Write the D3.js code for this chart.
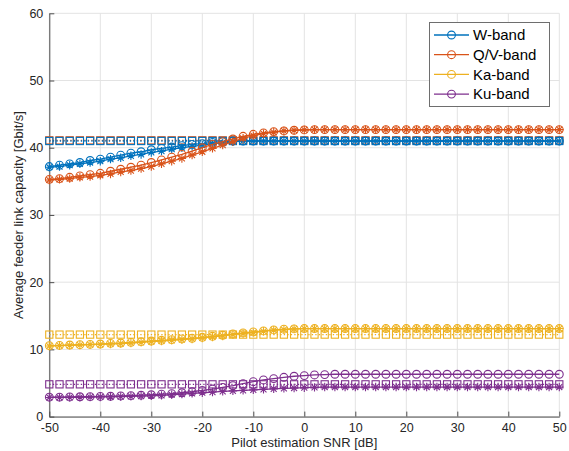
<!DOCTYPE html>
<html>
<head>
<meta charset="utf-8">
<script src="https://cdn.jsdelivr.net/npm/d3@7"></script>
<style>
  html, body { margin: 0; padding: 0; background: #fff; }
  svg { display: block; font-family: "Liberation Sans", Arial, Helvetica, sans-serif; }
</style>
</head>
<body>
<svg id="chart" width="569" height="451"></svg>
<script>
// Pilot estimation SNR grid [dB]
const snr = [-50,-48,-46,-44,-42,-40,-38,-36,-34,-32,-30,-28,-26,-24,-22,-20,-18,-16,-14,-12,-10,-8,-6,-4,-2,0,2,4,6,8,10,12,14,16,18,20,22,24,26,28,30,32,34,36,38,40,42,44,46,48,50];

// W-band capacity [Gbit/s]
const wCircle = [37.2,37.4,37.6,37.8,38.1,38.3,38.6,38.9,39.2,39.4,39.7,39.9,40.1,40.3,40.5,40.6,40.8,40.9,41.0,41.0,41.0,41.0,41.0,41.0,41.0,41.0,41.0,41.0,41.0,41.0,41.0,41.0,41.0,41.0,41.0,41.0,41.0,41.0,41.0,41.0,41.0,41.0,41.0,41.0,41.0,41.0,41.0,41.0,41.0,41.0,41.0];
const wSquare = [41.0,41.0,41.0,41.0,41.0,41.0,41.0,41.0,41.0,41.0,41.0,41.0,41.0,41.0,41.0,41.0,41.0,41.0,41.0,41.0,41.0,41.0,41.0,41.0,41.0,41.0,41.0,41.0,41.0,41.0,41.0,41.0,41.0,41.0,41.0,41.0,41.0,41.0,41.0,41.0,41.0,41.0,41.0,41.0,41.0,41.0,41.0,41.0,41.0,41.0,41.0];
const wStar   = [37.1,37.2,37.4,37.6,37.8,38.0,38.3,38.5,38.8,39.0,39.3,39.5,39.8,40.0,40.2,40.4,40.6,40.7,40.9,41.0,41.0,41.0,41.0,41.0,41.0,41.0,41.0,41.0,41.0,41.0,41.0,41.0,41.0,41.0,41.0,41.0,41.0,41.0,41.0,41.0,41.0,41.0,41.0,41.0,41.0,41.0,41.0,41.0,41.0,41.0,41.0];

// Q/V-band capacity [Gbit/s]
const qvCircle = [35.3,35.4,35.6,35.8,36.0,36.2,36.5,36.8,37.1,37.4,37.8,38.2,38.6,39.0,39.5,40.0,40.5,40.9,41.3,41.7,42.0,42.2,42.4,42.5,42.6,42.65,42.7,42.7,42.7,42.7,42.7,42.7,42.7,42.7,42.7,42.7,42.7,42.7,42.7,42.7,42.7,42.7,42.7,42.7,42.7,42.7,42.7,42.7,42.7,42.7,42.7];
const qvSquare = [41.1,41.1,41.1,41.1,41.1,41.1,41.1,41.1,41.1,41.1,41.1,41.1,41.1,41.1,41.1,41.1,41.1,41.1,41.1,41.1,41.1,41.1,41.1,41.1,41.1,41.1,41.1,41.1,41.1,41.1,41.1,41.1,41.1,41.1,41.1,41.1,41.1,41.1,41.1,41.1,41.1,41.1,41.1,41.1,41.1,41.1,41.1,41.1,41.1,41.1,41.1];
const qvStar   = [35.2,35.3,35.4,35.6,35.7,35.9,36.1,36.4,36.6,36.9,37.2,37.6,38.0,38.4,38.9,39.4,39.9,40.4,40.9,41.4,41.8,42.1,42.3,42.5,42.6,42.65,42.7,42.7,42.7,42.7,42.7,42.7,42.7,42.7,42.7,42.7,42.7,42.7,42.7,42.7,42.7,42.7,42.7,42.7,42.7,42.7,42.7,42.7,42.7,42.7,42.7];

// Ka-band capacity [Gbit/s]
const kaCircle = [10.55,10.6,10.65,10.7,10.75,10.8,10.9,10.95,11.05,11.15,11.25,11.35,11.45,11.55,11.65,11.8,11.95,12.1,12.3,12.45,12.6,12.75,12.9,13.0,13.05,13.1,13.1,13.1,13.1,13.1,13.1,13.1,13.1,13.1,13.1,13.1,13.1,13.1,13.1,13.1,13.1,13.1,13.1,13.1,13.1,13.1,13.1,13.1,13.1,13.1,13.1];
const kaSquare = [12.2,12.2,12.2,12.2,12.2,12.2,12.2,12.2,12.2,12.2,12.2,12.2,12.2,12.2,12.2,12.2,12.2,12.2,12.2,12.2,12.2,12.2,12.2,12.2,12.2,12.2,12.2,12.2,12.2,12.2,12.2,12.2,12.2,12.2,12.2,12.2,12.2,12.2,12.2,12.2,12.2,12.2,12.2,12.2,12.2,12.2,12.2,12.2,12.2,12.2,12.2];
const kaStar   = [10.5,10.55,10.6,10.65,10.7,10.75,10.8,10.85,10.95,11.05,11.15,11.25,11.35,11.45,11.55,11.7,11.85,12.0,12.2,12.35,12.5,12.7,12.85,12.95,13.05,13.1,13.1,13.1,13.1,13.1,13.1,13.1,13.1,13.1,13.1,13.1,13.1,13.1,13.1,13.1,13.1,13.1,13.1,13.1,13.1,13.1,13.1,13.1,13.1,13.1,13.1];

// Ku-band capacity [Gbit/s]
const kuCircle = [2.9,2.9,2.92,2.95,2.97,3.0,3.03,3.07,3.12,3.18,3.25,3.33,3.42,3.55,3.7,3.9,4.1,4.35,4.6,4.9,5.2,5.45,5.65,5.85,6.0,6.1,6.2,6.25,6.3,6.3,6.3,6.3,6.3,6.3,6.3,6.3,6.3,6.3,6.3,6.3,6.3,6.3,6.3,6.3,6.3,6.3,6.3,6.3,6.3,6.3,6.3];
const kuSquare = [4.8,4.8,4.8,4.8,4.8,4.8,4.8,4.8,4.8,4.8,4.8,4.8,4.8,4.8,4.8,4.8,4.8,4.8,4.8,4.8,4.8,4.8,4.8,4.8,4.8,4.8,4.8,4.8,4.8,4.8,4.8,4.8,4.8,4.8,4.8,4.8,4.8,4.8,4.8,4.8,4.8,4.8,4.8,4.8,4.8,4.8,4.8,4.8,4.8,4.8,4.8];
const kuStar   = [2.85,2.86,2.87,2.88,2.9,2.92,2.95,2.98,3.02,3.06,3.1,3.16,3.25,3.35,3.45,3.55,3.65,3.75,3.82,3.9,3.98,4.05,4.12,4.2,4.25,4.3,4.35,4.4,4.4,4.4,4.4,4.4,4.4,4.4,4.4,4.4,4.4,4.4,4.4,4.4,4.4,4.4,4.4,4.4,4.4,4.4,4.4,4.4,4.4,4.4,4.4];

const bandNames = ["W-band", "Q/V-band", "Ka-band", "Ku-band"];
const bandColors = ["#0072BD", "#D95319", "#EDB120", "#7E2F8E"];
const xTicks = [-50,-40,-30,-20,-10,0,10,20,30,40,50];
const yTicks = [0,10,20,30,40,50,60];

// series drawn in order; squares of Q/V sit under the W squares
const series = [
  { band: 1, kind: "square", values: qvSquare },
  { band: 0, kind: "circle", values: wCircle },
  { band: 0, kind: "square", values: wSquare },
  { band: 0, kind: "star",   values: wStar },
  { band: 1, kind: "circle", values: qvCircle },
  { band: 1, kind: "star",   values: qvStar },
  { band: 2, kind: "circle", values: kaCircle },
  { band: 2, kind: "square", values: kaSquare },
  { band: 2, kind: "star",   values: kaStar },
  { band: 3, kind: "circle", values: kuCircle },
  { band: 3, kind: "square", values: kuSquare },
  { band: 3, kind: "star",   values: kuStar }
];

const svg = d3.select("#chart");
const plotLeft = 49.3, plotRight = 559.3, plotTop = 13.3, plotBottom = 416.6;

const x = d3.scaleLinear().domain([-50, 50]).range([plotLeft, plotRight]);
const y = d3.scaleLinear().domain([0, 60]).range([plotBottom, plotTop]);

// grid
const grid = svg.append("g");
grid.selectAll("line.gx").data(xTicks).join("line")
  .attr("x1", d => x(d)).attr("x2", d => x(d))
  .attr("y1", plotTop).attr("y2", plotBottom)
  .attr("stroke", "#e3e3e3").attr("stroke-width", 1);
grid.selectAll("line.gy").data(yTicks).join("line")
  .attr("x1", plotLeft).attr("x2", plotRight)
  .attr("y1", d => y(d)).attr("y2", d => y(d))
  .attr("stroke", "#e3e3e3").attr("stroke-width", 1);

// axes (plain hyphen-minus in tick labels)
const axisColor = "#4d4d4d";
const fmt = d => String(d);
const xAxis = svg.append("g").attr("transform", `translate(0,${plotBottom})`)
  .call(d3.axisBottom(x).tickValues(xTicks).tickFormat(fmt).tickSize(-5).tickPadding(7).tickSizeOuter(0));
const yAxis = svg.append("g").attr("transform", `translate(${plotLeft},0)`)
  .call(d3.axisLeft(y).tickValues(yTicks).tickFormat(fmt).tickSize(-5).tickPadding(6).tickSizeOuter(0));
[xAxis, yAxis].forEach(g => {
  g.select(".domain").attr("stroke", axisColor).attr("stroke-width", 1);
  g.selectAll(".tick line").attr("stroke", axisColor);
  g.selectAll(".tick text").attr("fill", "#262626").attr("font-size", 12.5)
    .attr("font-family", "Liberation Sans, Arial, sans-serif");
});

// data layers
const plot = svg.append("g");
const lineGen = vals => d3.line().x((d, i) => x(snr[i])).y(d => y(d))(vals);
const starPath = (r) => {
  const a = r * Math.SQRT1_2;
  return `M${-r},0L${r},0M0,${-r}L0,${r}M${-a},${-a}L${a},${a}M${-a},${a}L${a},${-a}`;
};

series.forEach(s => {
  const color = bandColors[s.band];
  const g = plot.append("g");
  g.append("path")
    .attr("d", lineGen(s.values))
    .attr("fill", "none")
    .attr("stroke", color)
    .attr("stroke-width", 1.3)
    .attr("stroke-dasharray", s.kind === "square" ? "1.3,2.2" : null);
  const pts = g.selectAll("g.m").data(s.values).join("g")
    .attr("transform", (d, i) => `translate(${x(snr[i])},${y(d)})`);
  if (s.kind === "circle") {
    pts.append("circle").attr("r", 3.9)
      .attr("fill", "none").attr("stroke", color).attr("stroke-width", 1.1);
  } else if (s.kind === "square") {
    pts.append("rect").attr("x", -3.6).attr("y", -3.6).attr("width", 7.2).attr("height", 7.2)
      .attr("fill", "none").attr("stroke", color).attr("stroke-width", 1.1);
  } else {
    pts.append("path").attr("d", starPath(4.2))
      .attr("fill", "none").attr("stroke", color).attr("stroke-width", 1.1);
  }
});

// axis labels
svg.append("text")
  .attr("x", (plotLeft + plotRight) / 2).attr("y", 447)
  .attr("text-anchor", "middle").attr("font-size", 13).attr("fill", "#262626")
  .text("Pilot estimation SNR [dB]");
svg.append("text")
  .attr("transform", `translate(23,${(plotTop + plotBottom) / 2}) rotate(-90)`)
  .attr("text-anchor", "middle").attr("font-size", 13).attr("fill", "#262626")
  .text("Average feeder link capacity [Gbit/s]");

// legend
const lg = svg.append("g");
lg.append("rect").attr("x", 429.5).attr("y", 22.5).attr("width", 120).attr("height", 84)
  .attr("fill", "#fff").attr("stroke", "#6e6e6e").attr("stroke-width", 1);
bandNames.forEach((name, i) => {
  const yy = 35 + i * 19.7;
  lg.append("line").attr("x1", 434).attr("x2", 469).attr("y1", yy).attr("y2", yy)
    .attr("stroke", bandColors[i]).attr("stroke-width", 1.3);
  lg.append("circle").attr("cx", 451.5).attr("cy", yy).attr("r", 3.9)
    .attr("fill", "none").attr("stroke", bandColors[i]).attr("stroke-width", 1.1);
  lg.append("text").attr("x", 473).attr("y", yy + 5.2)
    .attr("font-size", 15).attr("fill", "#000").text(name);
});
</script>
</body>
</html>
